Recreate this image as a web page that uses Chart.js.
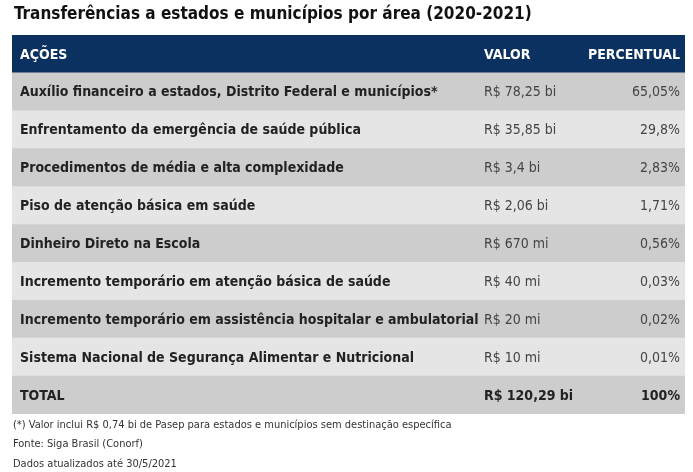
<!DOCTYPE html>
<html><head><meta charset="utf-8">
<script src="https://cdn.jsdelivr.net/npm/chart.js@4/dist/chart.umd.min.js"></script>
<style>
html,body{margin:0;padding:0;background:#fff;}
#wrap{position:relative;width:693px;height:472px;}
</style></head>
<body><div id="wrap"><canvas id="c" width="693" height="472"></canvas></div>
<script>
// table content
const title = 'Transferências a estados e municípios por área (2020-2021)';
const headers = ['AÇÕES', 'VALOR', 'PERCENTUAL'];
const acoes = [
    'Auxílio financeiro a estados, Distrito Federal e municípios*',
    'Enfrentamento da emergência de saúde pública',
    'Procedimentos de média e alta complexidade',
    'Piso de atenção básica em saúde',
    'Dinheiro Direto na Escola',
    'Incremento temporário em atenção básica de saúde',
    'Incremento temporário em assistência hospitalar e ambulatorial',
    'Sistema Nacional de Segurança Alimentar e Nutricional'
];
const valores = ['R$ 78,25 bi', 'R$ 35,85 bi', 'R$ 3,4 bi', 'R$ 2,06 bi', 'R$ 670 mi', 'R$ 40 mi', 'R$ 20 mi', 'R$ 10 mi'];
const percentuais = ['65,05%', '29,8%', '2,83%', '1,71%', '0,56%', '0,03%', '0,02%', '0,01%'];
const total = ['TOTAL', 'R$ 120,29 bi', '100%'];
const notas = [
    '(*) Valor inclui R$ 0,74 bi de Pasep para estados e municípios sem destinação específica',
    'Fonte: Siga Brasil (Conorf)',
    'Dados atualizados até 30/5/2021'
];

const FONT = '"DejaVu Sans Condensed", "Liberation Sans Narrow", "DejaVu Sans", sans-serif';
const rows = ['header'].concat(acoes, ['total']);
const rowColors = rows.map((r, i) => i === 0 ? '#0b3160' : (i % 2 === 1 ? '#cdcdcd' : '#e5e5e5'));

// draws the cell texts on top of the row bars
const tableText = {
    id: 'tableText',
    afterDatasetsDraw(chart) {
        const ctx = chart.ctx;
        const y = chart.scales.y;
        const colX = [20, 484, 680];
        ctx.save();
        ctx.textBaseline = 'middle';
        rows.forEach((r, i) => {
            const py = y.getPixelForValue(i) + 1;
            let cells, color, weight;
            if (i === 0) { cells = headers; color = '#ffffff'; weight = 'bold'; }
            else if (i === rows.length - 1) { cells = total; color = '#222'; weight = 'bold'; }
            else { cells = [acoes[i - 1], valores[i - 1], percentuais[i - 1]]; color = '#222'; weight = null; }
            cells.forEach((t, j) => {
                const bold = weight || (j === 0 ? 'bold' : 'normal');
                ctx.font = bold + ' 14px ' + FONT;
                ctx.fillStyle = (i > 0 && i < rows.length - 1 && j > 0) ? '#444' : color;
                ctx.textAlign = j === 2 ? 'right' : 'left';
                ctx.fillText(t, colX[j], py);
            });
        });
        ctx.fillStyle = '#111';
        ctx.textAlign = 'left';
        ctx.font = 'bold 17px ' + FONT;
        ctx.fillText(title, 14, 15);
        ctx.fillStyle = '#333';
        ctx.font = '11px ' + FONT;
        notas.forEach((n, k) => ctx.fillText(n, 13, 425 + k * 19.5));
        ctx.restore();
    }
};

new Chart(document.getElementById('c'), {
    type: 'bar',
    data: {
        labels: rows,
        datasets: [{
            data: rows.map(() => [0, 1]),
            backgroundColor: rowColors,
            borderWidth: 0,
            categoryPercentage: 1,
            barPercentage: 1
        }]
    },
    options: {
        indexAxis: 'y',
        responsive: false,
        animation: false,
        layout: { padding: { left: 12, right: 8, top: 35, bottom: 58 } },
        scales: {
            x: { display: false, min: 0, max: 1 },
            y: { display: false }
        },
        plugins: { legend: { display: false }, tooltip: { enabled: false } }
    },
    plugins: [tableText]
});
</script></body></html>
